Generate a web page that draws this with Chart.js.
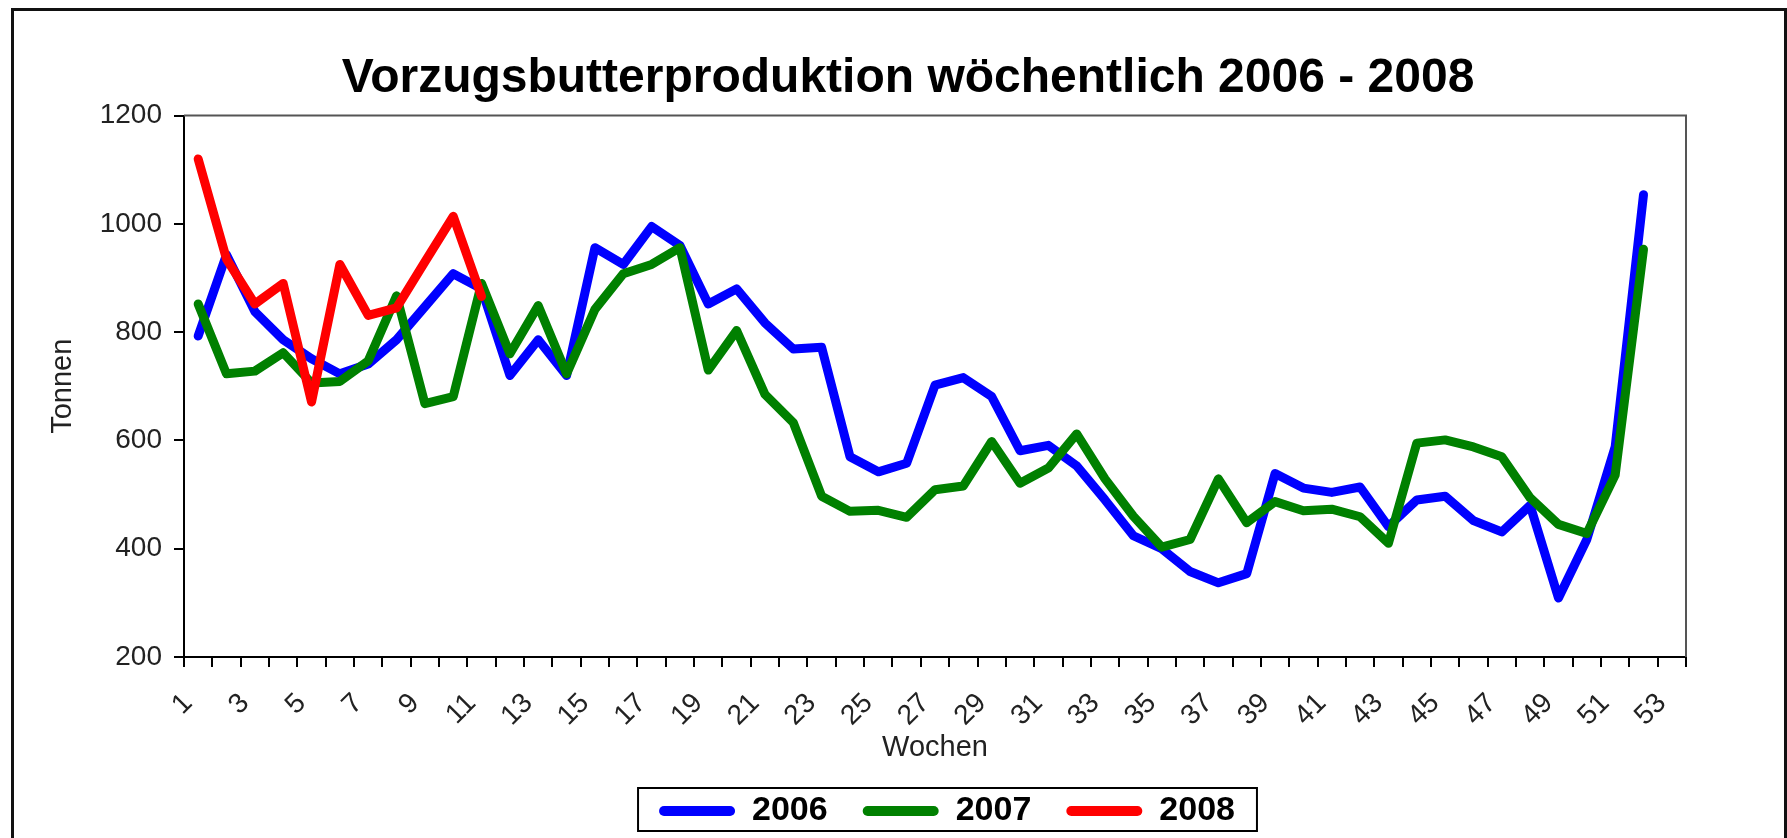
<!DOCTYPE html>
<html lang="de">
<head>
<meta charset="utf-8">
<title>Vorzugsbutterproduktion wöchentlich 2006 - 2008</title>
<script src="https://cdn.jsdelivr.net/npm/chart.js"></script>
<style>
    html, body { margin: 0; padding: 0; background: #fff; }
    #wrap { width: 1787px; height: 838px; }
</style>
</head>
<body>
<div id="wrap"><canvas id="butterChart" width="1787" height="838"></canvas></div>
<script>
// ---------- CHART DATA ----------
const weeks = ["1", "2", "3", "4", "5", "6", "7", "8", "9", "10",
    "11", "12", "13", "14", "15", "16", "17", "18", "19", "20",
    "21", "22", "23", "24", "25", "26", "27", "28", "29", "30",
    "31", "32", "33", "34", "35", "36", "37", "38", "39", "40",
    "41", "42", "43", "44", "45", "46", "47", "48", "49", "50",
    "51", "52", "53"];

// only every second week gets a label
const tickWeeks = ["1", "3", "5", "7", "9", "11", "13", "15", "17", "19",
    "21", "23", "25", "27", "29", "31", "33", "35", "37", "39",
    "41", "43", "45", "47", "49", "51", "53"];

const yTicks = [200, 400, 600, 800, 1000, 1200];

const years = ["2006", "2007", "2008"];

const tonnes2006 = [793, 943, 838, 786, 751, 723, 741, 786, 847, 908,
    880, 720, 786, 720, 956, 925, 995, 960, 852, 880,
    817, 769, 772, 570, 542, 558, 702, 716, 681, 581,
    591, 553, 490, 424, 400, 358, 337, 354, 539, 512,
    504, 514, 441, 490, 497, 452, 431, 480, 309, 417,
    588, 1054];

const tonnes2007 = [852, 723, 728, 762, 706, 709, 747, 867, 668, 681,
    890, 760, 849, 723, 842, 908, 925, 956, 730, 803,
    685, 633, 497, 469, 471, 458, 509, 516, 598, 521,
    549, 612, 529, 460, 403, 417, 529, 448, 487, 470,
    473, 459, 410, 595, 601, 588, 570, 494, 445, 428,
    536, 953];

const tonnes2008 = [1120, 935, 852, 890, 671, 925, 831, 845, 930, 1014, 866];

const FONT = "'Liberation Sans', Arial, sans-serif";

// ---------- PLUGINS ----------
// outer frame of the picture, plot area border, box round the legend
const frames = {
    id: "frames",
    beforeDatasetsDraw(chart) {
        const { ctx, chartArea } = chart;
        ctx.save();
        ctx.strokeStyle = "#555";
        ctx.lineWidth = 2;
        ctx.beginPath();
        ctx.moveTo(chartArea.left, chartArea.top);
        ctx.lineTo(chartArea.right, chartArea.top);
        ctx.lineTo(chartArea.right, chartArea.bottom);
        ctx.stroke();
        ctx.restore();
    },
    afterDraw(chart) {
        const ctx = chart.ctx;
        ctx.save();
        ctx.strokeStyle = "#111";
        ctx.lineWidth = 3;
        ctx.strokeRect(12.5, 9.5, chart.width - 14, chart.height + 20);

        const boxes = chart.legend.legendHitBoxes;
        if (boxes && boxes.length) {
            const first = boxes[0];
            const last = boxes[boxes.length - 1];
            const x0 = first.left - 21;
            const x1 = last.left + last.width + 22;
            const y0 = first.top - 6;
            const y1 = first.top + first.height + 3;
            ctx.strokeStyle = "#000";
            ctx.lineWidth = 2;
            ctx.strokeRect(x0, y0, x1 - x0, y1 - y0);
        }
        ctx.restore();
    }
};

// title and legend sit a little off the plot centre in the original
const nudge = {
    id: "nudge",
    afterLayout(chart) {
        const t = chart.titleBlock;
        t.left -= 27;
        t.right -= 27;
        const l = chart.legend;
        l.left += 12;
        l.right += 12;
    }
};

// ---------- LINE CHART ----------
const lineColors = ["#0000ff", "#008000", "#ff0000"];

const datasets = [tonnes2006, tonnes2007, tonnes2008].map((values, i) => ({
    label: years[i],
    data: values,
    borderColor: lineColors[i],
    backgroundColor: lineColors[i],
    order: 2 - i          // later years on top, like the original
}));

new Chart(document.getElementById("butterChart").getContext("2d"), {
    type: "line",
    data: {
        labels: weeks,
        datasets: datasets
    },
    options: {
        responsive: false,
        animation: false,
        devicePixelRatio: 1,
        events: [],
        layout: {
            padding: { left: 42, right: 101, top: 0, bottom: 0 }
        },
        elements: {
            line: {
                borderWidth: 9,
                tension: 0,
                borderJoinStyle: "round",
                borderCapStyle: "round",
                fill: false
            },
            point: { radius: 0, hoverRadius: 0 }
        },
        plugins: {
            title: {
                display: true,
                text: "Vorzugsbutterproduktion wöchentlich 2006 - 2008",
                fullSize: false,
                color: "#000",
                font: { family: FONT, size: 48, weight: "bold", lineHeight: 1.2 },
                padding: { top: 50, bottom: 8 }
            },
            legend: {
                position: "bottom",
                fullSize: false,
                labels: {
                    color: "#000",
                    font: { family: FONT, size: 34, weight: "bold" },
                    boxWidth: 76,
                    boxHeight: 10,
                    padding: 35,
                    generateLabels(chart) {
                        return chart.data.datasets.map((ds, i) => ({
                            text: ds.label,
                            fillStyle: ds.borderColor,
                            strokeStyle: ds.borderColor,
                            fontColor: "#000",
                            lineWidth: 0,
                            borderRadius: 5,
                            hidden: false,
                            datasetIndex: i
                        }));
                    }
                }
            },
            tooltip: { enabled: false }
        },
        scales: {
            x: {
                type: "category",
                offset: true,
                grid: {
                    offset: true,
                    drawOnChartArea: false,
                    drawTicks: true,
                    tickLength: 10,
                    color: "#000",
                    lineWidth: 2
                },
                border: { display: true, color: "#000", width: 2 },
                ticks: {
                    autoSkip: false,
                    minRotation: 45,
                    maxRotation: 45,
                    padding: 20,
                    labelOffset: -10,
                    color: "#222",
                    font: { family: FONT, size: 28 },
                    callback: function (value) {
                        const lab = this.getLabelForValue(value);
                        return tickWeeks.includes(lab) ? lab : "";
                    }
                },
                title: {
                    display: true,
                    text: "Wochen",
                    color: "#222",
                    font: { family: FONT, size: 29, lineHeight: 1 },
                    padding: { top: 0, bottom: -3 }
                },
                afterFit(scale) {
                    scale.height = 102;
                }
            },
            y: {
                min: yTicks[0],
                max: yTicks[yTicks.length - 1],
                grid: {
                    drawOnChartArea: false,
                    drawTicks: true,
                    tickLength: 10,
                    color: "#000",
                    lineWidth: 2
                },
                border: { display: true, color: "#000", width: 2 },
                ticks: {
                    stepSize: yTicks[1] - yTicks[0],
                    padding: 12,
                    color: "#222",
                    font: { family: FONT, size: 28 },
                    callback: value => String(value)
                },
                title: {
                    display: true,
                    text: "Tonnen",
                    color: "#222",
                    font: { family: FONT, size: 29, lineHeight: 1.2 },
                    padding: { top: 4, bottom: 4 }
                },
                afterFit(scale) {
                    scale.width = 142;
                }
            }
        }
    },
    plugins: [frames, nudge]
});
</script>
</body>
</html>
